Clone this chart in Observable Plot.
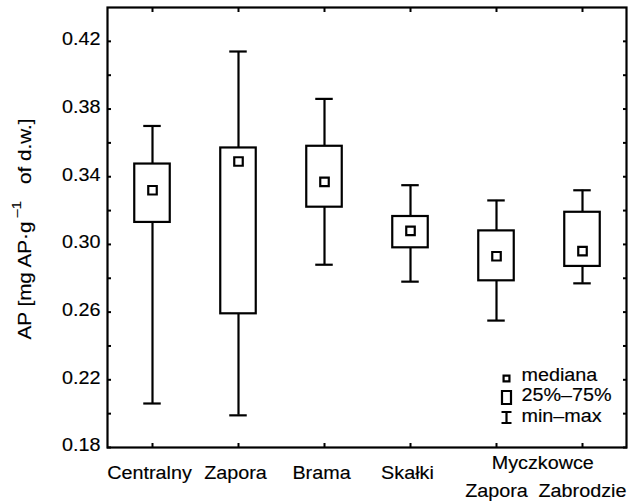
<!DOCTYPE html>
<html>
<head>
<meta charset="utf-8">
<script src="https://cdn.jsdelivr.net/npm/d3@7"></script>
<script src="https://cdn.jsdelivr.net/npm/@observablehq/plot@0.6"></script>
<style>
  html, body { margin: 0; padding: 0; background: white; }
  #chart { width: 643px; height: 504px; }
  #chart svg text { stroke: black; stroke-width: 0.15px; }
</style>
</head>
<body>
<div id="chart"></div>
<script>
// ---- data ----
const sites = ["Centralny", "Zapora", "Brama", "Skałki", "Myczkowce Zapora", "Myczkowce Zabrodzie"];
const siteLabels = ["Centralny", "Zapora", "Brama", "Skałki", "Zapora", "Zabrodzie"];
const groupLabel = "Myczkowce";
const minValues = [0.206, 0.199, 0.288, 0.278, 0.255, 0.277];
const q1Values = [0.313, 0.259, 0.322, 0.298, 0.2785, 0.287];
const medianValues = [0.332, 0.349, 0.337, 0.308, 0.293, 0.296];
const q3Values = [0.3475, 0.357, 0.358, 0.3165, 0.308, 0.319];
const maxValues = [0.370, 0.414, 0.386, 0.335, 0.326, 0.332];
const yTickLabels = [0.18, 0.22, 0.26, 0.30, 0.34, 0.38, 0.42];
const yTickMarks = [0.18, 0.20, 0.22, 0.24, 0.26, 0.28, 0.30, 0.32, 0.34, 0.36, 0.38, 0.40, 0.42];
const legendLabels = ["mediana", "25%–75%", "min–max"];
const yTitleMain = "AP [mg AP·g";
const yTitleSup = "–1";
const yTitleEnd = " of d.w.]";

const data = sites.map((s, i) => ({
  site: s, min: minValues[i], q1: q1Values[i], median: medianValues[i], q3: q3Values[i], max: maxValues[i]
}));
const labelOf = new Map(sites.map((s, i) => [s, siteLabels[i]]));

const W = 643, H = 504;
const mL = 107, mR = 17, mT = 7, mB = 57;
const bandW = (W - mL - mR) / sites.length;

// custom legend symbols
const rectSymbol = { draw(ctx) { const w = 9, h = 13; ctx.rect(-w / 2, -h / 2, w, h); } };
const iSymbol = { draw(ctx) {
  const w = 10, h = 11;
  ctx.moveTo(-w / 2, -h / 2); ctx.lineTo(w / 2, -h / 2);
  ctx.moveTo(0, -h / 2); ctx.lineTo(0, h / 2);
  ctx.moveTo(-w / 2, h / 2); ctx.lineTo(w / 2, h / 2);
} };

const axisStyle = { strokeWidth: 2, label: null };

const chart = Plot.plot({
  width: W, height: H,
  marginLeft: mL, marginRight: mR, marginTop: mT, marginBottom: mB,
  style: { fontFamily: "'Liberation Sans', Arial, sans-serif", fontSize: "18.5px", color: "black", background: "white" },
  x: { type: "band", domain: sites, padding: 0, axis: null },
  y: { domain: [0.18, 0.44], axis: null },
  marks: [
    // inward ticks on all four sides
    Plot.axisY({ anchor: "left", ticks: yTickMarks, tickSize: -4, fill: "none", ...axisStyle }),
    Plot.axisY({ anchor: "right", ticks: yTickMarks, tickSize: -4, fill: "none", ...axisStyle }),
    Plot.axisX({ anchor: "bottom", tickSize: -4, fill: "none", ...axisStyle }),
    Plot.axisX({ anchor: "top", tickSize: -4, fill: "none", ...axisStyle }),
    // y tick labels
    Plot.axisY({ anchor: "left", ticks: yTickLabels, tickSize: 0, tickPadding: 7, tickFormat: d3.format(".2f"), dy: -2, label: null }),
    // x labels
    Plot.axisX({ anchor: "bottom", ticks: sites.slice(0, 4), tickSize: 0, tickPadding: 18, tickFormat: d => labelOf.get(d), dx: -3, label: null }),
    Plot.axisX({ anchor: "bottom", ticks: sites.slice(4), tickSize: 0, tickPadding: 36, tickFormat: d => labelOf.get(d), label: null }),
    Plot.axisX({ anchor: "bottom", ticks: [sites[4]], tickSize: 0, tickPadding: 8, tickFormat: () => groupLabel, dx: bandW / 2 + 3, label: null }),
    // whiskers
    Plot.ruleX(data, { x: "site", y1: "min", y2: "max", stroke: "black", strokeWidth: 2.2 }),
    Plot.tickY(data, { x: "site", y: "min", stroke: "black", strokeWidth: 2.2, insetLeft: (bandW - 18) / 2, insetRight: (bandW - 18) / 2 }),
    Plot.tickY(data, { x: "site", y: "max", stroke: "black", strokeWidth: 2.2, insetLeft: (bandW - 18) / 2, insetRight: (bandW - 18) / 2 }),
    // boxes
    Plot.barY(data, { x: "site", y1: "q1", y2: "q3", fill: "white", stroke: "black", strokeWidth: 2.2, insetLeft: (bandW - 36) / 2, insetRight: (bandW - 36) / 2 }),
    // medians
    Plot.dot(data, { x: "site", y: "median", symbol: "square", r: 4.8, fill: "white", stroke: "black", strokeWidth: 2.2 }),
    // legend
    Plot.dot([legendLabels[0]], { frameAnchor: "bottom-right", dx: -120, dy: -69, symbol: "square", r: 3.3, fill: "white", stroke: "black", strokeWidth: 2.2 }),
    Plot.dot([legendLabels[1]], { frameAnchor: "bottom-right", dx: -120, dy: -50, symbol: rectSymbol, r: 3, fill: "white", stroke: "black", strokeWidth: 2.2 }),
    Plot.dot([legendLabels[2]], { frameAnchor: "bottom-right", dx: -120, dy: -30, symbol: iSymbol, r: 3, fill: "none", stroke: "black", strokeWidth: 2.2 }),
    Plot.text([legendLabels[0]], { text: d => d, frameAnchor: "bottom-right", textAnchor: "start", dx: -105, dy: -67, fill: "black" }),
    Plot.text([legendLabels[1]], { text: d => d, frameAnchor: "bottom-right", textAnchor: "start", dx: -105, dy: -47, fill: "black" }),
    Plot.text([legendLabels[2]], { text: d => d, frameAnchor: "bottom-right", textAnchor: "start", dx: -105, dy: -26, fill: "black" }),
    Plot.frame({ stroke: "black", strokeWidth: 2.2 })
  ]
});

const S = 1.07; // horizontal stretch of the reference's lettering
const svg = d3.select(chart);
// y title with superscript
const title = svg.append("text")
  .attr("transform", `translate(31,${(mT + H - mB) / 2 + 2}) rotate(-90)`)
  .attr("text-anchor", "middle")
  .attr("fill", "black")
  .attr("font-size", 18.5);
title.append("tspan").text(yTitleMain);
title.append("tspan").attr("dy", -10).attr("font-size", 13).text(" " + yTitleSup);
title.append("tspan").attr("dy", 10).text("  " + yTitleEnd);

for (const t of chart.querySelectorAll("text")) {
  const x = parseFloat(t.getAttribute("x") || "0");
  t.removeAttribute("x");
  const tr = t.getAttribute("transform") || "";
  t.setAttribute("transform", `${tr} translate(${x},0) scale(${t === title.node() ? 1.12 : S},1)`);
}

document.getElementById("chart").appendChild(chart);
</script>
</body>
</html>
